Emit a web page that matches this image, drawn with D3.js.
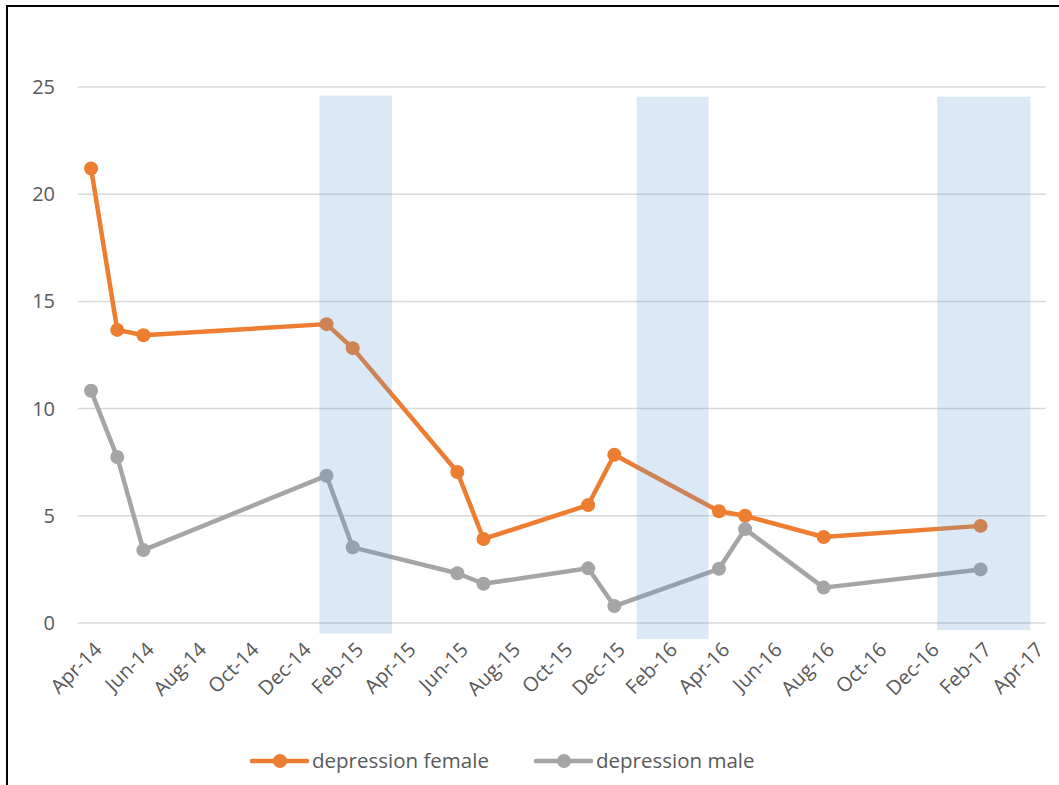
<!DOCTYPE html>
<html>
<head>
<meta charset="utf-8">
<script src="https://cdnjs.cloudflare.com/ajax/libs/d3/7.8.5/d3.min.js"></script>
<style>
  body { margin: 0; background: white; }
  text { font-family: "Open Sans", sans-serif; fill: #595959; }
</style>
</head>
<body>
<script>

// months of the observations
const months = ["2014-04", "2014-05", "2014-06", "2015-01", "2015-02", "2015-06", "2015-07",
                "2015-11", "2015-12", "2016-04", "2016-05", "2016-08", "2017-02"];
const female = [21.2, 13.67, 13.42, 13.94, 12.82, 7.04, 3.92, 5.5, 7.85, 5.21, 5.0, 4.01, 4.53];
const male = [10.83, 7.74, 3.4, 6.87, 3.53, 2.32, 1.83, 2.55, 0.79, 2.53, 4.38, 1.65, 2.5];

const yTicks = [0, 5, 10, 15, 20, 25];

// shaded periods (start, end dates and vertical extent)
const shadeStart = ["2015-01-08", "2016-01-12", "2016-12-27"];
const shadeEnd = ["2015-04-01", "2016-04-04", "2017-04-13"];
const shadeTop = [24.6, 24.55, 24.55];
const shadeBottom = [-0.5, -0.75, -0.33];

const seriesNames = ["depression female", "depression male"];
const colors = ["#ED7D31", "#A5A5A5"];

const width = 1059, height = 785;

const svg = d3.select("body").append("svg")
    .attr("width", width)
    .attr("height", height);

// frame
svg.append("path")
    .attr("d", `M7,${height + 5} V6 H${width + 5}`)
    .style("fill", "none")
    .style("stroke", "black")
    .style("stroke-width", 2);

const parseMonth = d3.timeParse("%Y-%m");
const parseDay = d3.timeParse("%Y-%m-%d");
const firstMonth = new Date(2014, 3, 1);
const allMonths = d3.timeMonth.range(firstMonth, new Date(2017, 4, 1));

const x = d3.scaleBand()
    .domain(allMonths.map(d => +d))
    .range([78, 1046])
    .paddingInner(0);

const y = d3.scaleLinear().domain([0, 25]).range([623, 87]);

const xMonth = m => x(+parseMonth(m)) + x.bandwidth() / 2;

// position of an arbitrary day on the month band axis
const xDay = s => {
    const d = parseDay(s);
    const m0 = d3.timeMonth.floor(d);
    const m1 = d3.timeMonth.offset(m0, 1);
    const frac = (d - m0) / (m1 - m0);
    const idx = d3.timeMonth.count(firstMonth, m0);
    return x.range()[0] + (idx + frac) * x.step();
};

// gridlines
svg.selectAll(".grid")
    .data(yTicks)
    .join("line")
    .attr("class", "grid")
    .attr("x1", 78)
    .attr("x2", 1046)
    .attr("y1", d => y(d))
    .attr("y2", d => y(d))
    .style("stroke", "#D9D9D9")
    .style("stroke-width", 1.5);

// y labels
svg.selectAll(".ylab")
    .data(yTicks)
    .join("text")
    .attr("class", "ylab")
    .attr("x", 55)
    .attr("y", d => y(d))
    .attr("dy", "0.35em")
    .attr("text-anchor", "end")
    .style("font-size", "20px")
    .text(d => d);

// x labels every two months
const labelMonths = allMonths.filter((d, i) => i % 2 === 0);
const fmt = d3.timeFormat("%b-%y");
svg.selectAll(".xlab")
    .data(labelMonths)
    .join("text")
    .attr("class", "xlab")
    .attr("transform", d => `translate(${x(+d) + x.bandwidth() / 2 + 7},${646}) rotate(-45)`)
    .attr("text-anchor", "end")
    .attr("dy", "0.35em")
    .style("font-size", "20px")
    .text(d => fmt(d));

// series
const series = [female, male];
const line = d3.line()
    .x((d, i) => xMonth(months[i]))
    .y(d => y(d));

series.forEach((vals, s) => {
    svg.append("path")
        .datum(vals)
        .attr("d", line)
        .style("fill", "none")
        .style("stroke", colors[s])
        .style("stroke-width", 4.5)
        .style("stroke-linejoin", "round");

    svg.selectAll(".dot" + s)
        .data(vals)
        .join("circle")
        .attr("class", "dot" + s)
        .attr("cx", (d, i) => xMonth(months[i]))
        .attr("cy", d => y(d))
        .attr("r", 7)
        .style("fill", colors[s]);
});

// shaded periods on top
svg.selectAll(".shade")
    .data(shadeStart)
    .join("rect")
    .attr("class", "shade")
    .attr("x", (d, i) => xDay(d))
    .attr("width", (d, i) => xDay(shadeEnd[i]) - xDay(d))
    .attr("y", (d, i) => y(shadeTop[i]))
    .attr("height", (d, i) => y(shadeBottom[i]) - y(shadeTop[i]))
    .style("fill", "#5B9BD5")
    .style("opacity", 0.22);

// legend
const legendX = [252, 536];
const legend = svg.selectAll(".legend")
    .data(seriesNames)
    .join("g")
    .attr("class", "legend")
    .attr("transform", (d, i) => `translate(${legendX[i]},761)`);

legend.append("line")
    .attr("x1", 0).attr("x2", 55)
    .style("stroke", (d, i) => colors[i])
    .style("stroke-width", 4.5)
    .style("stroke-linecap", "round");

legend.append("circle")
    .attr("cx", 28)
    .attr("r", 7)
    .style("fill", (d, i) => colors[i]);

legend.append("text")
    .attr("x", 60)
    .attr("dy", "0.35em")
    .style("font-size", "20.5px")
    .text(d => d);

</script>
</body>
</html>
